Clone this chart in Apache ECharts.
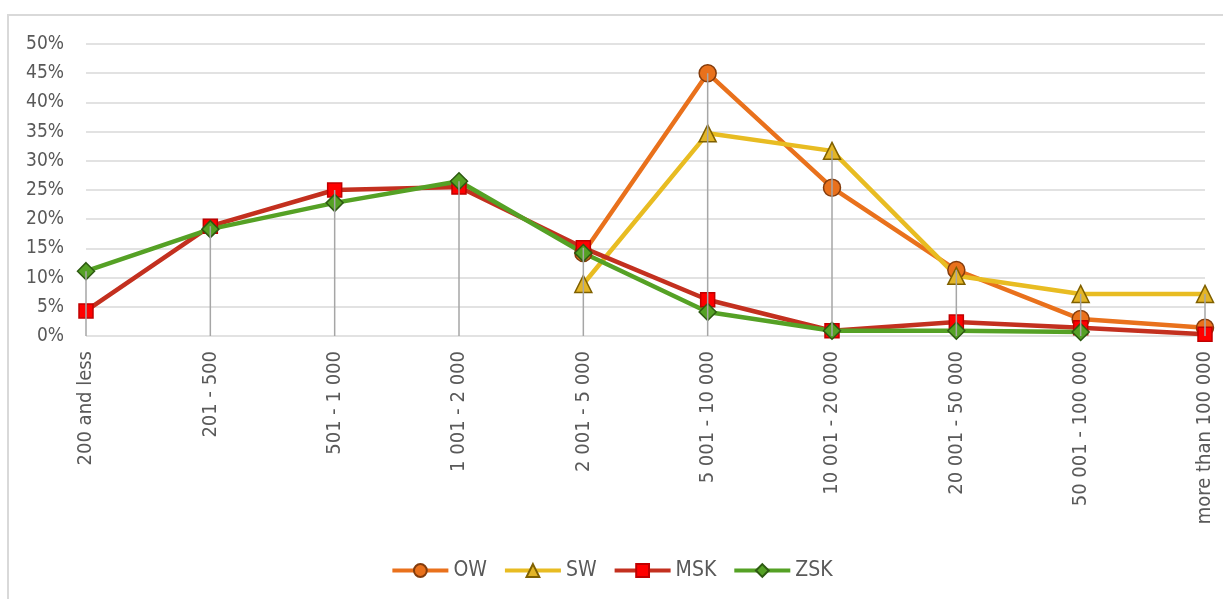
<!DOCTYPE html>
<html>
<head>
<meta charset="utf-8">
<script src="https://cdn.jsdelivr.net/npm/echarts@6/dist/echarts.min.js"></script>
<style>
  html, body { margin: 0; padding: 0; background: #fff; }
  #frame {
    position: absolute; left: 7px; top: 14px;
    width: 1300px; height: 700px;
    border: 2px solid #d9d9d9;
  }
  #chart { position: absolute; left: 0; top: 0; width: 1223px; height: 599px; }
</style>
</head>
<body>
<div id="frame"></div>
<div id="chart"></div>
<script>
// kategorie i wartości (%)
var categories = ["200 and less", "201 - 500", "501 - 1 000", "1 001 - 2 000", "2 001 - 5 000",
  "5 001 - 10 000", "10 001 - 20 000", "20 001 - 50 000", "50 001 - 100 000", "more than 100 000"];
var ow  = [null, null, null, null, 14.2, 45.0, 25.4, 11.3, 2.9, 1.4];
var sw  = [null, null, null, null, 8.9, 34.7, 31.7, 10.3, 7.2, 7.2];
var msk = [4.3, 18.8, 25.0, 25.5, 15.1, 6.2, 0.9, 2.4, 1.4, 0.3];
var zsk = [11.1, 18.3, 22.8, 26.5, 14.2, 4.1, 0.9, 0.9, 0.7, null];
var yTicks = [0, 5, 10, 15, 20, 25, 30, 35, 40, 45, 50];

// linie pionowe od najwyższego punktu do osi
var dropLines = categories.map(function (c, i) {
  var v = [ow[i], sw[i], msk[i], zsk[i]].filter(function (x) { return x != null; });
  return Math.max.apply(null, v);
});

var font = "DejaVu Sans Condensed";
var myChart = echarts.init(document.getElementById("chart"));

function lineSeries(name, data, lineColor, fill, border, symbol, size) {
  return {
    name: name,
    type: "line",
    data: data,
    symbol: symbol,
    symbolSize: size,
    z: 3,
    lineStyle: { color: lineColor, width: 4.5 },
    itemStyle: { color: fill, borderColor: border, borderWidth: 1.5 }
  };
}

myChart.setOption({
  animation: false,
  textStyle: { fontFamily: font },
  legend: {
    data: ["OW", "SW", "MSK", "ZSK"],
    top: 555,
    left: "center",
    itemWidth: 56,
    itemHeight: 16,
    itemGap: 16,
    lineStyle: { width: 4 },
    textStyle: { fontSize: 21, color: "#595959", fontFamily: font }
  },
  grid: { left: 86, right: 18, top: 44, bottom: 263 },
  xAxis: {
    type: "category",
    data: categories,
    boundaryGap: false,
    axisLine: { show: false },
    axisTick: { show: false },
    axisLabel: { rotate: 90, fontSize: 20, color: "#595959", margin: 15, interval: 0 }
  },
  yAxis: {
    type: "value",
    min: 0,
    max: 50,
    interval: 5,
    axisLabel: {
      fontSize: 19, color: "#595959", margin: 22,
      formatter: function (v) { return yTicks.indexOf(v) >= 0 ? v + "%" : ""; }
    },
    splitLine: { lineStyle: { color: "#d9d9d9", width: 1.5 } }
  },
  series: [
    {
      name: "drop",
      type: "bar",
      data: dropLines,
      barWidth: 1.5,
      z: 5,
      silent: true,
      itemStyle: { color: "#a6a6a6" }
    },
    lineSeries("OW", ow, "#e9711c", "#e9711c", "#843c0c", "circle", 17),
    lineSeries("SW", sw, "#e8bc22", "#e3b527", "#7f6000", "triangle", 17),
    lineSeries("MSK", msk, "#c3301f", "#ff0000", "#c00000", "rect", 14),
    lineSeries("ZSK", zsk, "#55a125", "#55a125", "#2d5a12", "diamond", 17)
  ]
});
window.onresize = function () {
  myChart.resize();
};
</script>
</body>
</html>
